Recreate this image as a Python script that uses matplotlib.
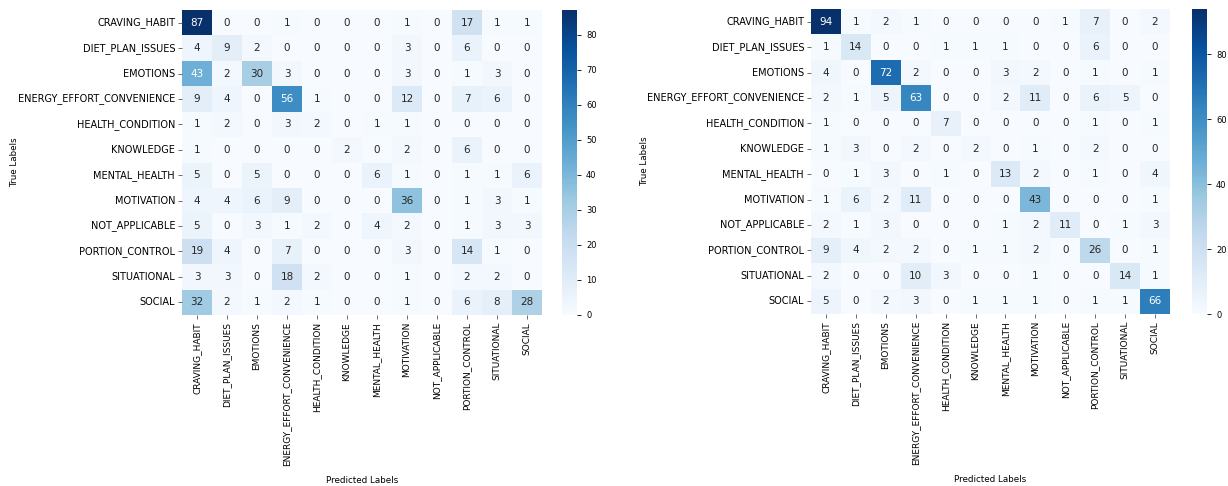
import numpy as np
import matplotlib.pyplot as plt
import seaborn as sns

labels = [
    "CRAVING_HABIT", "DIET_PLAN_ISSUES", "EMOTIONS", "ENERGY_EFFORT_CONVENIENCE",
    "HEALTH_CONDITION", "KNOWLEDGE", "MENTAL_HEALTH", "MOTIVATION",
    "NOT_APPLICABLE", "PORTION_CONTROL", "SITUATIONAL", "SOCIAL",
]

cm_left = np.array([
    [87, 0, 0, 1, 0, 0, 0, 1, 0, 17, 1, 1],
    [4, 9, 2, 0, 0, 0, 0, 3, 0, 6, 0, 0],
    [43, 2, 30, 3, 0, 0, 0, 3, 0, 1, 3, 0],
    [9, 4, 0, 56, 1, 0, 0, 12, 0, 7, 6, 0],
    [1, 2, 0, 3, 2, 0, 1, 1, 0, 0, 0, 0],
    [1, 0, 0, 0, 0, 2, 0, 2, 0, 6, 0, 0],
    [5, 0, 5, 0, 0, 0, 6, 1, 0, 1, 1, 6],
    [4, 4, 6, 9, 0, 0, 0, 36, 0, 1, 3, 1],
    [5, 0, 3, 1, 2, 0, 4, 2, 0, 1, 3, 3],
    [19, 4, 0, 7, 0, 0, 0, 3, 0, 14, 1, 0],
    [3, 3, 0, 18, 2, 0, 0, 1, 0, 2, 2, 0],
    [32, 2, 1, 2, 1, 0, 0, 1, 0, 6, 8, 28],
])

cm_right = np.array([
    [94, 1, 2, 1, 0, 0, 0, 0, 1, 7, 0, 2],
    [1, 14, 0, 0, 1, 1, 1, 0, 0, 6, 0, 0],
    [4, 0, 72, 2, 0, 0, 3, 2, 0, 1, 0, 1],
    [2, 1, 5, 63, 0, 0, 2, 11, 0, 6, 5, 0],
    [1, 0, 0, 0, 7, 0, 0, 0, 0, 1, 0, 1],
    [1, 3, 0, 2, 0, 2, 0, 1, 0, 2, 0, 0],
    [0, 1, 3, 0, 1, 0, 13, 2, 0, 1, 0, 4],
    [1, 6, 2, 11, 0, 0, 0, 43, 0, 0, 0, 1],
    [2, 1, 3, 0, 0, 0, 1, 2, 11, 0, 1, 3],
    [9, 4, 2, 2, 0, 1, 1, 2, 0, 26, 0, 1],
    [2, 0, 0, 10, 3, 0, 0, 1, 0, 0, 14, 1],
    [5, 0, 2, 3, 0, 1, 1, 1, 0, 1, 1, 66],
])

W, H = 1228, 486
fig = plt.figure(figsize=(W / 100, H / 100), dpi=100)


def box(x0, y0, x1, y1):
    return [x0 / W, 1 - y1 / H, (x1 - x0) / W, (y1 - y0) / H]


panels = [
    (cm_left, box(182, 10, 542, 315), box(562, 10, 577, 315), 10),
    (cm_right, box(811, 9, 1170, 314), box(1192, 9, 1207, 314), 20),
]

for cm, ax_box, cb_box, step in panels:
    ax = fig.add_axes(ax_box)
    cax = fig.add_axes(cb_box)
    sns.heatmap(cm, annot=True, fmt="d", cmap="Blues", ax=ax, cbar_ax=cax,
                xticklabels=labels, yticklabels=labels,
                annot_kws={"fontsize": 7.5})
    ax.set_xticklabels(labels, rotation=90, fontsize=6.5)
    ax.set_yticklabels(labels, rotation=0, fontsize=7)
    ax.tick_params(length=3, width=0.6, color="#555555", pad=2)
    ax.set_xlabel("Predicted Labels", fontsize=6.3)
    ax.set_ylabel("True Labels", fontsize=6.3)
    ax.xaxis.set_label_coords(0.5, -0.527)
    ax.yaxis.set_label_coords(-0.452, 0.5)
    cax.yaxis.set_major_locator(plt.MultipleLocator(step))
    cax.tick_params(labelsize=6, length=3, width=0.6)

plt.savefig("out.png", dpi=100)
